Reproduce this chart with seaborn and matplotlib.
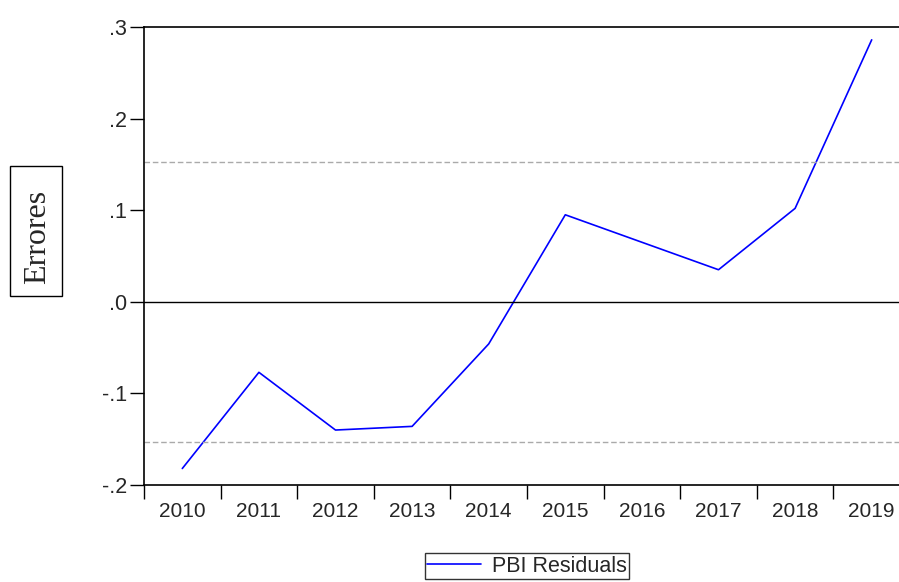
import numpy as np
import pandas as pd
import matplotlib
matplotlib.use("Agg")
import matplotlib.pyplot as plt
from matplotlib.patches import Rectangle
import seaborn as sns

# data
years = ["2010", "2011", "2012", "2013", "2014", "2015", "2016", "2017", "2018", "2019"]
residuals = [-0.182, -0.077, -0.140, -0.136, -0.046, 0.095, 0.065, 0.035, 0.102, 0.286]
band = 0.153
yticks = [-0.2, -0.1, 0.0, 0.1, 0.2, 0.3]
ytick_labels = ["-.2", "-.1", ".0", ".1", ".2", ".3"]

sns.set_theme(style="white")
plt.rcParams['font.family'] = ['Liberation Sans', 'DejaVu Sans']

df = pd.DataFrame({"pos": np.arange(len(years)), "res": residuals})

fig = plt.figure(figsize=(8.99, 5.82), dpi=100)
ax = fig.add_axes([144 / 899, 97 / 582, (910 - 144) / 899, 458 / 582])

sns.lineplot(data=df, x="pos", y="res", ax=ax, color="#0000ff", linewidth=1.2,
             label="PBI Residuals", legend=False)

ax.axhline(0, color="black", linewidth=1)
ax.axhline(band, color="#aaaaaa", linestyle=(0, (4, 2)), linewidth=1)
ax.axhline(-band, color="#aaaaaa", linestyle=(0, (4, 2)), linewidth=1)

ax.set_xlim(-0.5, len(years) - 0.5)
ax.set_ylim(-0.2, 0.3)

# category boundaries as major ticks, labels centered
ax.set_xticks(np.arange(len(years) + 1) - 0.5)
ax.set_xticklabels([])
ax.set_xticks(np.arange(len(years)), minor=True)
ax.set_xticklabels(years, minor=True, fontsize=15)
ax.tick_params(axis="x", which="major", direction="out", length=10, width=1, color="black", bottom=True)
ax.tick_params(axis="x", which="minor", length=0, pad=12)

ax.set_yticks(yticks)
ax.set_yticklabels(ytick_labels, fontsize=15.5)
ax.tick_params(axis="y", direction="out", length=10, width=1, color="black", left=True, pad=2)

ax.set_xlabel("")
ax.set_ylabel("")
for side in ["left", "top", "bottom"]:
    ax.spines[side].set_color("black")
    ax.spines[side].set_linewidth(1.2)
ax.spines["right"].set_visible(False)
ax.grid(False)

# boxed y label
fig.patches.append(Rectangle((10 / 899, 1 - 296 / 582), 52 / 899, 130 / 582,
                             transform=fig.transFigure, fc="white", ec="black", lw=1))
fig.text(38 / 899, 1 - 237 / 582, "Errores", rotation=90, ha="center", va="center",
         fontsize=23, family=["Liberation Serif", "DejaVu Serif"])

handles, labels = ax.get_legend_handles_labels()
leg = fig.legend(handles, labels, loc="center", bbox_to_anchor=(527 / 899, 1 - 566 / 582),
                 frameon=True, fancybox=False, fontsize=15.5, handlelength=2.5,
                 borderpad=0.12, handletextpad=0.5, borderaxespad=0)
leg.get_frame().set_edgecolor("black")
leg.get_frame().set_linewidth(1)

fig.savefig("out.png", dpi=100)
